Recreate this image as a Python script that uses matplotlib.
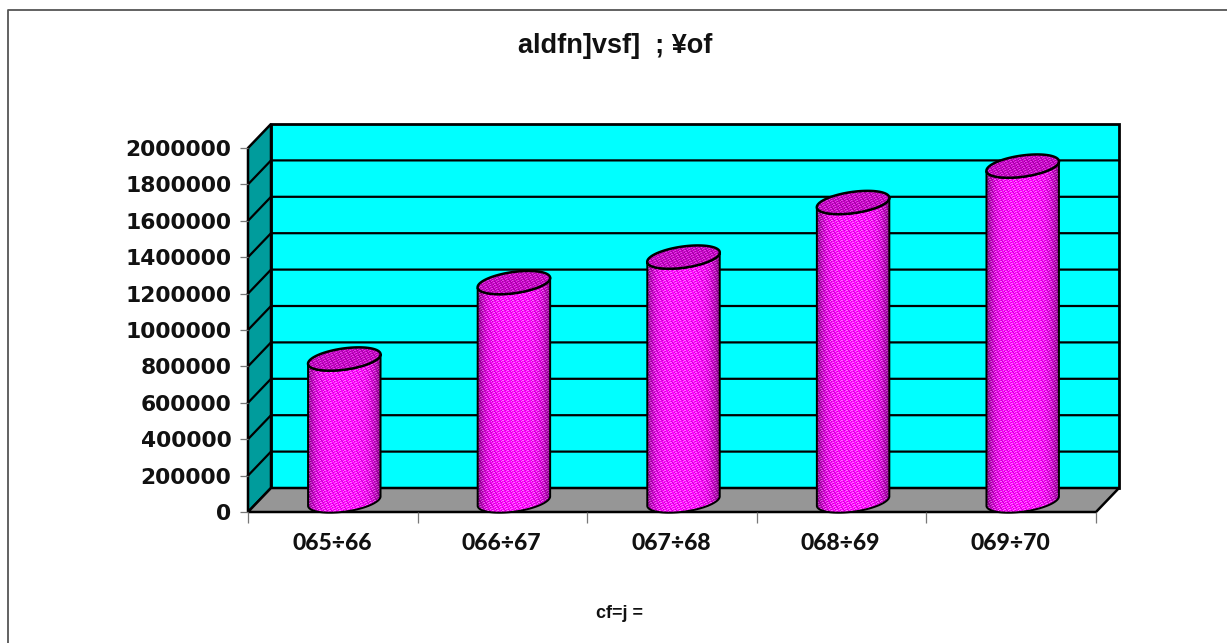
import numpy as np
import matplotlib
matplotlib.use("Agg")
import matplotlib.pyplot as plt
from matplotlib.patches import Polygon, Rectangle
from matplotlib.lines import Line2D

categories = ["065÷66", "066÷67", "067÷68", "068÷69", "069÷70"]
values = [780000, 1200000, 1340000, 1640000, 1840000]
y_ticks = [0, 200000, 400000, 600000, 800000, 1000000, 1200000, 1400000,
           1600000, 1800000, 2000000]
title = "aldfn]vsf]  ; ¥of"
xlabel = "cf=j ="

W, H = 1227, 643
fig = plt.figure(figsize=(W / 100, H / 100), dpi=100, facecolor="white")
L, R, T, B = 248, 1096, 148, 512
ax = fig.add_axes([L / W, 1 - B / H, (R - L) / W, (B - T) / H])
n = len(categories)
ymax = 2000000
ax.patch.set_visible(False)
for s in ax.spines.values():
    s.set_visible(False)

px = n / (R - L)
py = ymax / (B - T)
ox, oy = 23 * px, 24 * py

fig.add_artist(Line2D([8 / W, 8 / W, 1], [0, 1 - 9.5 / H, 1 - 9.5 / H],
                      color="#555555", lw=1.3, transform=fig.transFigure))

ax.add_patch(Rectangle((ox, oy), n, ymax, fc="#00FFFF", ec="black", lw=2, clip_on=False, zorder=1))
ax.add_patch(Polygon([(0, 0), (ox, oy), (ox, oy + ymax), (0, ymax)], fc="#009C9C",
                     ec="black", lw=1.8, clip_on=False, zorder=1.2))
ax.add_patch(Polygon([(0, 0), (n, 0), (n + ox, oy), (ox, oy)], fc="#969696",
                     ec="black", lw=1.8, clip_on=False, zorder=1.2))
for v in y_ticks[1:-1]:
    ax.plot([0, ox, n + ox], [v, v + oy, v + oy], color="black", lw=1.6,
            clip_on=False, zorder=1.5, solid_joinstyle="miter")

tilt = np.deg2rad(8.0)
a_px, b_px = 36.6, 10.6
th = np.linspace(0, 2 * np.pi, 181)


def ell(cx, cy, t):
    xp = a_px * np.cos(t) * np.cos(tilt) - b_px * np.sin(t) * np.sin(tilt)
    yp = a_px * np.cos(t) * np.sin(tilt) + b_px * np.sin(t) * np.cos(tilt)
    return cx + xp * px, cy + yp * py


def texture(w, h, edge, mid, light):
    xx = np.linspace(-1, 1, w)
    shade = edge + (mid - edge) * (1 - np.abs(xx) ** 4)
    jj, ii = np.meshgrid(np.arange(w), np.arange(h))
    hi = ((jj + 2 * ii) % 5 == 0) | ((jj + 2 * ii + 1) % 5 == 0) & (ii % 2 == 0)
    lo = (jj - ii) % 4 == 0
    r = shade[None, :] * (1 - 0.16 * lo)
    g = hi * light * shade[None, :]
    r = np.clip(r + hi * 0.15, 0, 1)
    return np.dstack([r, g, r])


for i, v in enumerate(values):
    cx = i + 0.5 + ox / 2
    base = oy / 2 - 1 * py
    top = v + base
    tb = np.linspace(0, np.pi, 60)
    xb, yb = ell(cx, base, -np.pi + tb)
    xt, yt = ell(cx, top, -tb)
    verts = np.column_stack([np.r_[xb, xt], np.r_[yb, yt]])
    h_px = int(round((top - base) / py)) + 40
    im = ax.imshow(texture(74, h_px, 0.5, 1.0, 0.42),
                   extent=(cx - 37 * px, cx + 37 * px, base - 15 * py, base + (h_px - 15) * py),
                   aspect="auto", interpolation="nearest", zorder=2.5)
    im.set_clip_path(Polygon(verts, closed=True, transform=ax.transData))
    ax.add_patch(Polygon(verts, closed=True, fc="none", ec="black", lw=1.4,
                         clip_on=False, zorder=3))
    ex, ey = ell(cx, top, th)
    im2 = ax.imshow(texture(74, 30, 0.74, 0.76, 0.30),
                    extent=(cx - 37 * px, cx + 37 * px, top - 15 * py, top + 15 * py),
                    aspect="auto", interpolation="nearest", zorder=3.5)
    im2.set_clip_path(Polygon(np.column_stack([ex, ey]), closed=True, transform=ax.transData))
    ax.add_patch(Polygon(np.column_stack([ex, ey]), closed=True, fc="none", ec="black",
                         lw=1.8, clip_on=False, zorder=4))

ax.set_xlim(0, n)
ax.set_ylim(0, ymax)

ax.set_yticks(y_ticks)
ax.set_yticklabels([str(v) for v in y_ticks], fontsize=15.7, fontweight="bold",
                   family="DejaVu Sans", color="#111111")
ax.set_xticks(range(n + 1))
ax.set_xticklabels([""] * (n + 1))
ax.tick_params(axis="y", length=6, width=0.9, color="#777777", pad=6)
ax.tick_params(axis="x", length=8, width=0.9, color="#777777")
for i, c in enumerate(categories):
    fig.text((L + (i + 0.5) * (R - L) / n - 1) / W, 1 - 543 / H, c, ha="center", va="center",
             fontsize=16.5, fontweight="black", family="Lato", color="#111111")
fig.text(620 / W, 1 - 614 / H, xlabel, ha="center", va="center", fontsize=13,
         fontweight="bold", family="Liberation Sans", color="#111111")
fig.text(615.5 / W, 1 - 46 / H, title, ha="center", va="center", fontsize=19.5,
         fontweight="bold", family="Liberation Sans", color="#111111")

fig.savefig("out.png", dpi=100, facecolor="white")
